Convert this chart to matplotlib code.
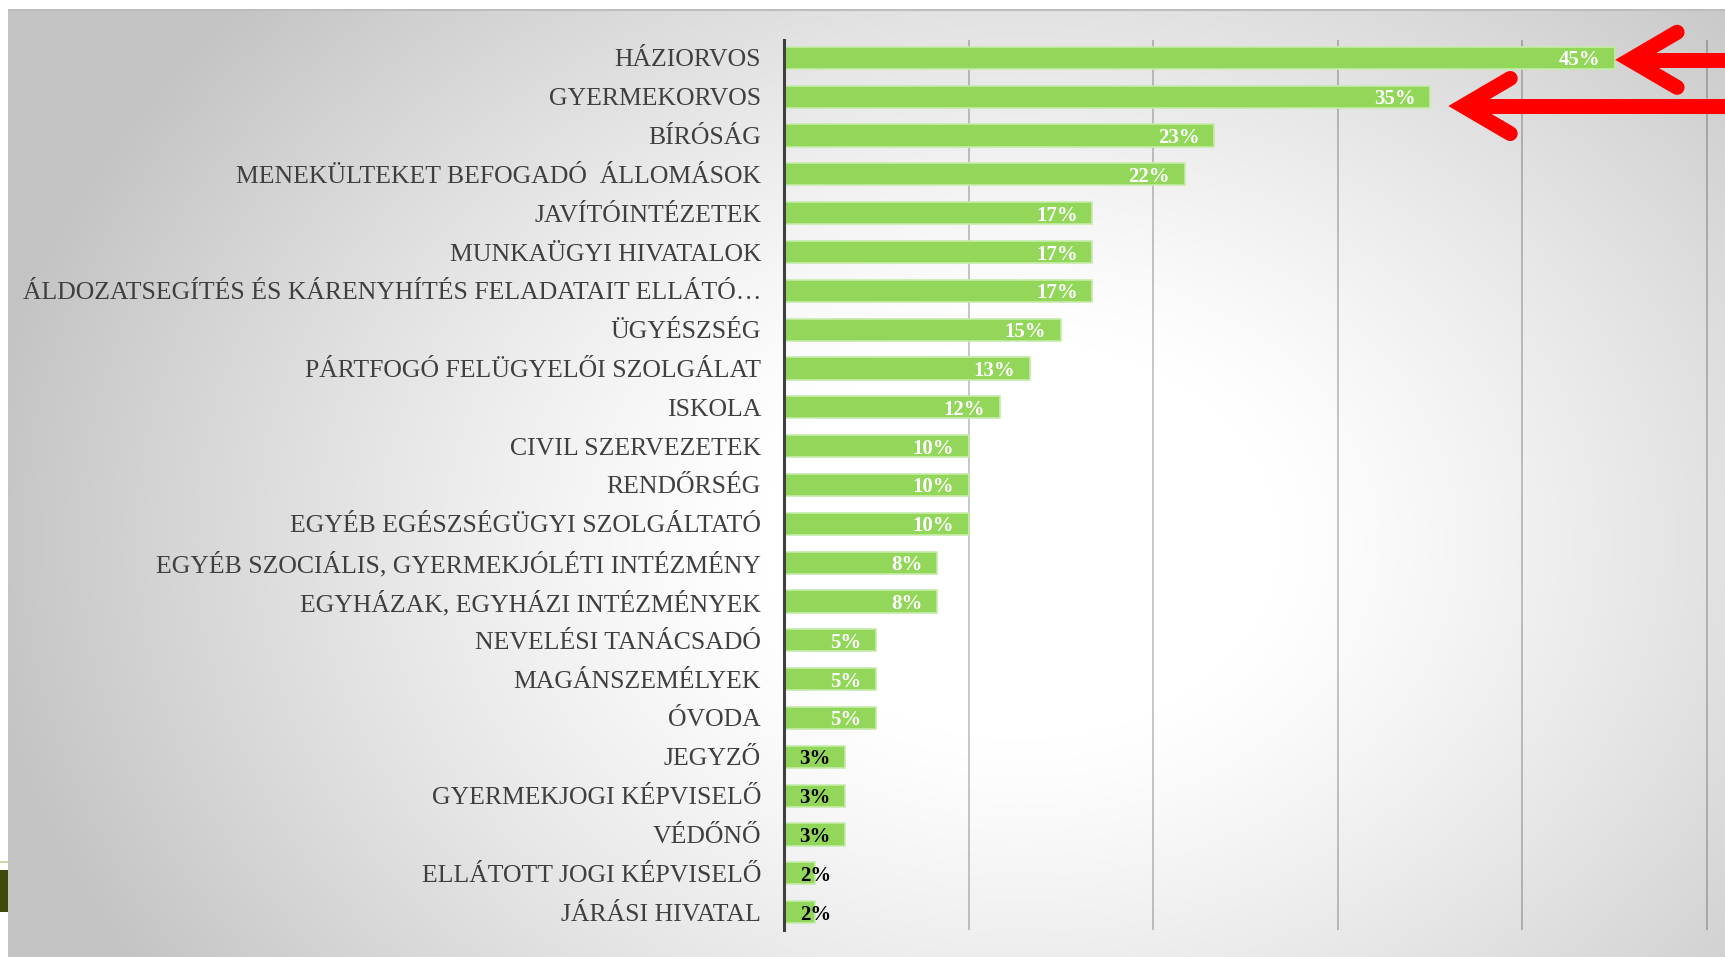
import numpy as np
import matplotlib.pyplot as plt
from matplotlib.patches import Rectangle

plt.rcParams['font.family'] = ['Liberation Serif', 'DejaVu Serif']

categories = [
    "HÁZIORVOS",
    "GYERMEKORVOS",
    "BÍRÓSÁG",
    "MENEKÜLTEKET BEFOGADÓ  ÁLLOMÁSOK",
    "JAVÍTÓINTÉZETEK",
    "MUNKAÜGYI HIVATALOK",
    "ÁLDOZATSEGÍTÉS ÉS KÁRENYHÍTÉS FELADATAIT ELLÁTÓ…",
    "ÜGYÉSZSÉG",
    "PÁRTFOGÓ FELÜGYELŐI SZOLGÁLAT",
    "ISKOLA",
    "CIVIL SZERVEZETEK",
    "RENDŐRSÉG",
    "EGYÉB EGÉSZSÉGÜGYI SZOLGÁLTATÓ",
    "EGYÉB SZOCIÁLIS, GYERMEKJÓLÉTI INTÉZMÉNY",
    "EGYHÁZAK, EGYHÁZI INTÉZMÉNYEK",
    "NEVELÉSI TANÁCSADÓ",
    "MAGÁNSZEMÉLYEK",
    "ÓVODA",
    "JEGYZŐ",
    "GYERMEKJOGI KÉPVISELŐ",
    "VÉDŐNŐ",
    "ELLÁTOTT JOGI KÉPVISELŐ",
    "JÁRÁSI HIVATAL",
]
values = [45.0, 35.0, 23.3, 21.7, 16.7, 16.7, 16.7, 15.0, 13.3, 11.7, 10.0, 10.0,
          10.0, 8.3, 8.3, 5.0, 5.0, 5.0, 3.3, 3.3, 3.3, 1.7, 1.7]
grid_ticks = [10, 20, 30, 40, 50]
# red arrows: (bar index, offset of tip from bar end, vertical offset)
arrows = [(0, 0.83, 0.05), (1, 1.79, 0.24)]

W, H = 1725, 957
fig = plt.figure(figsize=(W / 100, H / 100), dpi=100)

# background with radial gray gradient
bg = fig.add_axes([0, 0, 1, 1], zorder=0)
yy, xx = np.mgrid[0:H, 0:W]
d = np.hypot((xx - 1020) / 1.3, yy - 540)
t = np.clip((d - 200) / 600, 0, 1)
shade = 1 - 0.23 * t ** 1.2
bg.imshow(np.dstack([shade] * 3), extent=(0, W, H, 0), aspect='auto', interpolation='bilinear')
bg.set_xlim(0, W)
bg.set_ylim(H, 0)
bg.axis('off')
bg.add_patch(Rectangle((0, 0), W, 9, color='white', lw=0))
bg.add_patch(Rectangle((8, 9), W - 8, 2, color='#bdbdbd', lw=0))
bg.add_patch(Rectangle((0, 0), 8, H, color='white', lw=0))
bg.add_patch(Rectangle((0, 861), 8, 2, color='#c9dca0', lw=0))
bg.add_patch(Rectangle((0, 870), 8, 42, color='#3d4a0c', lw=0))

# main chart
px_unit = (1707 - 784) / 50
xmax = 50.2
ax = fig.add_axes([784 / W, 1 - 930 / H, xmax * px_unit / W, 890 / H], zorder=1)
ax.set_facecolor('none')

y = np.arange(len(categories))
ax.barh(y, values, height=0.57, color='#92d65a', edgecolor='#c6ecaa', linewidth=1.2, zorder=3)
ax.set_xlim(0, xmax)
ax.set_ylim(len(categories) - 1 + 0.46, -0.46)

ax.set_xticks(grid_ticks)
ax.grid(axis='x', color='k', alpha=0.28, linewidth=1.1)
ax.set_axisbelow(True)
ax.tick_params(axis='x', length=0, labelbottom=False)
ax.set_yticks(y, categories)
ax.tick_params(axis='y', length=0, pad=16.5, labelsize=18.5, labelcolor='#3f3f3f')

for side in ['top', 'right', 'bottom']:
    ax.spines[side].set_visible(False)
ax.spines['left'].set_color('#404040')
ax.spines['left'].set_linewidth(2.2)
ax.spines['left'].set_zorder(4)

for i, v in enumerate(values):
    txt = f"{v:.0f}%"
    col = 'white' if v >= 4 else 'black'
    if v < 2.5:
        ax.annotate(txt, xy=(0, i), xytext=(11.5, 0), textcoords='offset points',
                    ha='left', va='center_baseline', fontsize=15, fontweight='bold',
                    color=col, zorder=5)
    else:
        ax.annotate(txt, xy=(v, i), xytext=(-10.5, 0), textcoords='offset points',
                    ha='right', va='center_baseline', fontsize=15, fontweight='bold',
                    color=col, zorder=5)

head_dx, head_dy = 2.55, 0.71
for idx, dx, dy in arrows:
    tx, ty = values[idx] + dx, idx + dy
    ax.plot([tx + head_dx, tx, tx + head_dx], [ty - head_dy, ty, ty + head_dy],
            color='#ff0000', lw=10.8, solid_capstyle='round', solid_joinstyle='miter',
            clip_on=False, zorder=6)
    ax.plot([tx, 60], [ty, ty], color='#ff0000', lw=10.8, solid_capstyle='butt',
            clip_on=False, zorder=6)

fig.savefig('out.png', dpi=100)
